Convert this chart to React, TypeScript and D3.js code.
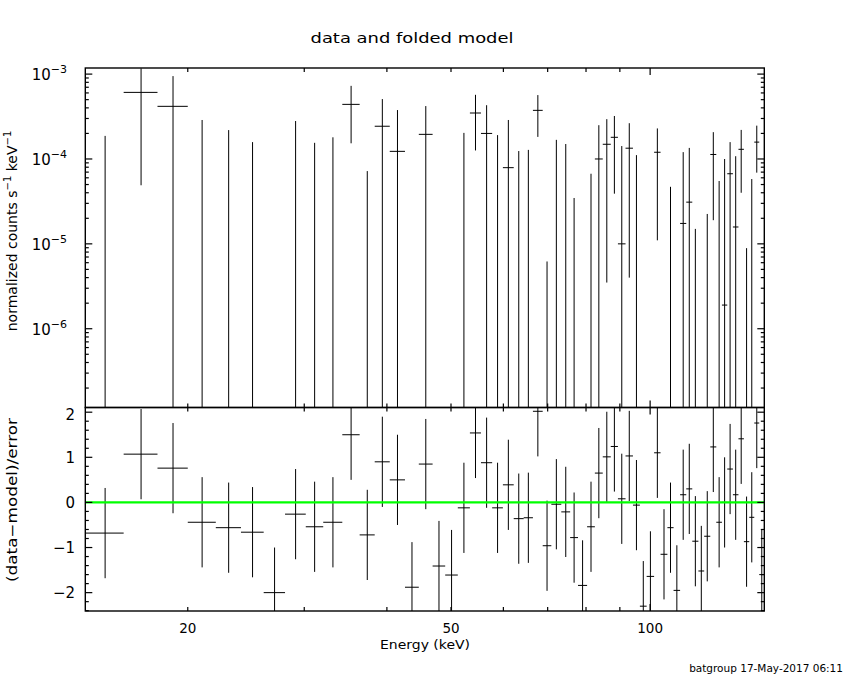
import React from 'react';
import * as d3 from 'd3';

// Energy bin edges (keV), 59 bins
const energyEdges = [14.0, 16.0, 18.0, 20.0, 22.05, 24.07, 26.05, 28.06, 30.16, 32.05, 34.25, 36.38, 38.34, 40.4, 42.6, 44.7, 46.9, 49.0, 51.2, 53.4, 55.5, 57.7, 59.9, 62.2, 64.4, 66.5, 68.8, 70.9, 73.4, 75.7, 77.8, 80.3, 82.5, 84.8, 87.2, 89.4, 91.8, 94.2, 96.5, 98.8, 101.4, 103.7, 106.2, 108.5, 111.0, 113.4, 115.8, 118.3, 120.7, 123.3, 125.9, 128.4, 130.8, 133.4, 136.0, 138.6, 141.2, 143.7, 146.2, 148.8];

// normalized counts s^-1 keV^-1 (0 = below the plotted range)
const rate = [0, 6.09e-4, 4.17e-4, 0, 0, 0, 0, 0, 0, 0, 4.4e-4, 0, 2.43e-4, 1.23e-4, 0, 1.95e-4, 0, 0, 0, 3.48e-4, 2.0e-4, 0, 7.9e-5, 0, 0, 3.74e-4, 0, 0, 0, 0, 0, 0, 1.0e-4, 1.49e-4, 1.8e-4, 1.0e-5, 1.34e-4, 0, 0, 0, 1.2e-4, 0, 0, 0, 1.74e-5, 3.1e-5, 0, 0, 0, 1.13e-4, 0, 1.9e-6, 6.7e-5, 1.58e-5, 1.3e-4, 0, 0, 1.58e-4, 0];

const rateErr = [1.87e-4, 5.6e-4, 5.3e-4, 2.88e-4, 2.19e-4, 1.58e-4, 0, 2.8e-4, 1.55e-4, 1.8e-4, 2.87e-4, 7.2e-5, 2.65e-4, 2.54e-4, 0, 2.25e-4, 0, 0, 2.03e-4, 2.22e-4, 2.3e-4, 1.91e-4, 2.09e-4, 1.24e-4, 1.28e-4, 1.92e-4, 6.2e-6, 1.68e-4, 1.5e-4, 3.47e-5, 0, 6.7e-5, 1.5e-4, 1.455e-4, 1.41e-4, 1.32e-4, 1.3e-4, 1.11e-4, 0, 0, 1.09e-4, 0, 4.7e-5, 0, 1.03e-4, 1.04e-4, 1.5e-5, 0, 2.25e-5, 9.4e-5, 5.5e-5, 9.8e-5, 9.1e-5, 9.2e-5, 9.0e-5, 8.9e-6, 5.8e-5, 8.9e-5, 0];

// (data-model)/error
const residual = [-0.68, 1.07, 0.76, -0.44, -0.56, -0.66, -2.0, -0.26, -0.54, -0.44, 1.5, -0.72, 0.9, 0.5, -1.88, 0.85, -1.41, -1.61, -0.12, 1.54, 0.88, -0.12, 0.39, -0.36, -0.34, 2.02, -0.96, -0.04, -0.21, -0.78, -1.84, -0.54, 0.65, 1.01, 1.24, 0.08, 1.03, -0.06, -2.3, -1.64, 1.1, -1.15, -0.56, -1.95, 0.17, 0.3, -0.86, -1.52, -0.75, 1.23, -0.44, 0.0, 0.74, 0.17, 1.41, -0.87, -0.33, 1.76, -1.6];

const residualErr = [1, 1, 1, 1, 1, 1, 1, 1, 1, 1, 1, 1, 1, 1, 1, 1, 1, 1, 1, 1, 1, 1, 1, 1, 1, 1, 1, 1, 1, 1, 1, 1, 1, 1, 1, 1, 1, 1, 1, 1, 1, 1, 1, 1, 1, 1, 1, 1, 1, 1, 1, 1, 1, 1, 1, 1, 1, 1, 1];

const xTickLabels = [20, 50, 100];
const yTopDecades = [-3, -4, -5, -6];
const yResLabels = [-2, -1, 0, 1, 2];

const FONT = 'DejaVu Sans, Liberation Sans, sans-serif';

export default function App() {
  const L = 85.3, R = 764.3, T = 68, M = 407.5, B = 611;
  const x = d3.scaleLog().domain([14, 148.8]).range([L, R]);
  const yTop = d3.scaleLog().domain([1.18e-7, 1.18e-3]).range([M, T]);
  const yRes = d3.scaleLinear().domain([-2.407, 2.104]).range([B, M]);
  const [ymin, ymax] = yTop.domain();

  const bins = residual.map((r, i) => ({
    lo: energyEdges[i],
    hi: energyEdges[i + 1],
    c: (energyEdges[i] + energyEdges[i + 1]) / 2,
    v: rate[i],
    e: rateErr[i],
    r,
    re: residualErr[i],
  }));

  const xMinor = [20, 30, 40, 50, 60, 70, 80, 90];
  const xMajor = [100];
  const xTicks: { v: number; len: number }[] = [
    ...xMinor.map((v) => ({ v, len: 4 })),
    ...xMajor.map((v) => ({ v, len: 7 })),
  ];

  const yTopTicks: { v: number; len: number }[] = [];
  for (let p = -7; p <= -3; p++) {
    for (let m = 1; m <= 9; m++) {
      const v = m * Math.pow(10, p);
      if (v >= ymin && v <= ymax) yTopTicks.push({ v, len: m === 1 ? 7 : 3.5 });
    }
  }
  const yResTicks: { v: number; len: number }[] = [];
  for (let k = -12; k <= 10; k++) {
    const v = k / 5;
    if (v >= -2.407 && v <= 2.104) yResTicks.push({ v, len: k % 5 === 0 ? 7 : 3.5 });
  }

  const stroke = '#000';

  return (
    <svg width={850} height={680} style={{ display: 'block', position: 'absolute', left: 0, top: 0, background: '#fff' }} fontFamily={FONT}>
      <rect x={0} y={0} width={850} height={680} fill="#fff" />
      <defs>
        <clipPath id="clipTop"><rect x={L} y={T} width={R - L} height={M - T} /></clipPath>
        <clipPath id="clipRes"><rect x={L} y={M} width={R - L} height={B - M} /></clipPath>
      </defs>

      <text x={412} y={43} textAnchor="middle" fontSize={14} textLength={203} lengthAdjust="spacingAndGlyphs">data and folded model</text>

      <g clipPath="url(#clipTop)" stroke={stroke} strokeWidth={1}>
        {bins.map((b, i) => {
          if (b.e <= 0 && b.v <= 0) return null;
          const hiV = Math.min(b.v + b.e, ymax * 1.2);
          const loV = b.v - b.e > ymin ? b.v - b.e : ymin * 0.8;
          if (hiV <= ymin) return null;
          const xc = x(b.c);
          return (
            <g key={i}>
              <line x1={xc} x2={xc} y1={yTop(loV)} y2={yTop(hiV)} />
              {b.v > ymin && <line x1={x(b.lo)} x2={x(b.hi)} y1={yTop(b.v)} y2={yTop(b.v)} />}
            </g>
          );
        })}
      </g>

      <g clipPath="url(#clipRes)" stroke={stroke} strokeWidth={1}>
        {bins.map((b, i) => {
          const xc = x(b.c);
          return (
            <g key={i}>
              <line x1={xc} x2={xc} y1={yRes(b.r - b.re)} y2={yRes(b.r + b.re)} />
              <line x1={x(b.lo)} x2={x(b.hi)} y1={yRes(b.r)} y2={yRes(b.r)} />
            </g>
          );
        })}
        <line x1={L} x2={R} y1={yRes(0)} y2={yRes(0)} stroke="#00ff00" strokeWidth={2.2} />
      </g>

      <g fill="none" stroke={stroke} strokeWidth={1.4}>
        <rect x={L} y={T} width={R - L} height={M - T} />
        <rect x={L} y={M} width={R - L} height={B - M} />
      </g>

      <g stroke={stroke} strokeWidth={1.2}>
        {xTicks.map((t, i) => {
          const xx = x(t.v);
          return (
            <g key={i}>
              <line x1={xx} x2={xx} y1={T} y2={T + t.len} />
              <line x1={xx} x2={xx} y1={M} y2={M - t.len} />
              <line x1={xx} x2={xx} y1={M} y2={M + t.len} />
              <line x1={xx} x2={xx} y1={B} y2={B - t.len} />
            </g>
          );
        })}
        {yTopTicks.map((t, i) => {
          const yy = yTop(t.v);
          return (
            <g key={'yt' + i}>
              <line x1={L} x2={L + t.len} y1={yy} y2={yy} />
              <line x1={R} x2={R - t.len} y1={yy} y2={yy} />
            </g>
          );
        })}
        {yResTicks.map((t, i) => {
          const yy = yRes(t.v);
          return (
            <g key={'yr' + i}>
              <line x1={L} x2={L + t.len} y1={yy} y2={yy} />
              <line x1={R} x2={R - t.len} y1={yy} y2={yy} />
            </g>
          );
        })}
      </g>

      <g fontSize={15} fill="#000">
        {yTopDecades.map((p) => (
          <text key={p} x={67} y={yTop(Math.pow(10, p)) + 6} textAnchor="end">
            10
            <tspan fontSize={11} dy={-7}>{'\u2212' + Math.abs(p)}</tspan>
          </text>
        ))}
      </g>

      <g fontSize={15} fill="#000">
        {yResLabels.map((v) => (
          <text key={v} x={75} y={yRes(v) + 5.5 + (v === 2 ? 2 : 0)} textAnchor="end">
            {v < 0 ? '\u2212' + Math.abs(v) : String(v)}
          </text>
        ))}
      </g>

      <g fontSize={13.5} fill="#000">
        {xTickLabels.map((v) => (
          <text key={v} x={x(v)} y={633} textAnchor="middle">{v}</text>
        ))}
      </g>

      <text x={425} y={649} textAnchor="middle" fontSize={13} textLength={90} lengthAdjust="spacingAndGlyphs">Energy (keV)</text>

      <text transform="translate(17,231) rotate(-90)" textAnchor="middle" fontSize={14}>
        normalized counts s
        <tspan fontSize={10} dy={-6}>{'\u22121'}</tspan>
        <tspan dy={6}>{'  keV'}</tspan>
        <tspan fontSize={10} dy={-6}>{'\u22121'}</tspan>
      </text>

      <text transform="translate(17,500) rotate(-90)" textAnchor="middle" fontSize={14} textLength={164} lengthAdjust="spacingAndGlyphs">
        (data{'\u2212'}model)/error
      </text>

      <text x={843} y={672} textAnchor="end" fontSize={10.5}>batgroup 17-May-2017 06:11</text>
    </svg>
  );
}
